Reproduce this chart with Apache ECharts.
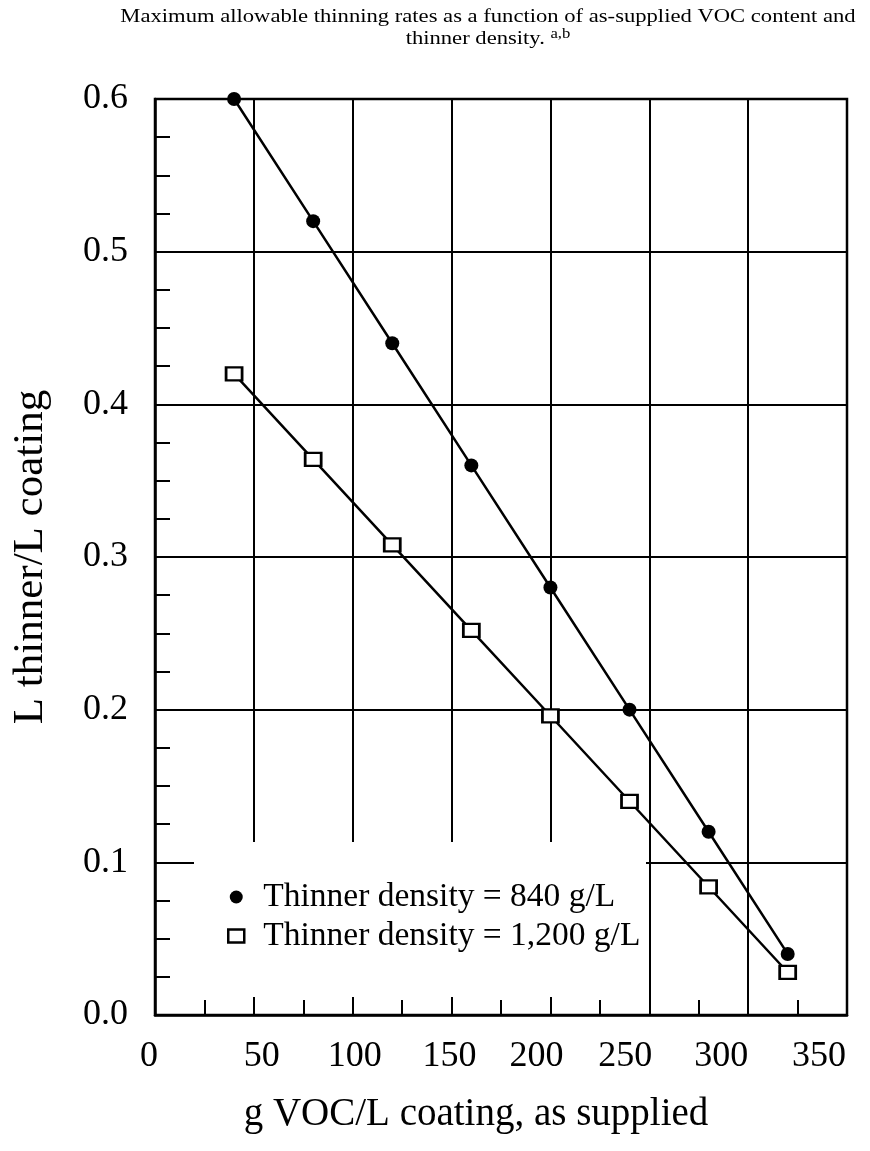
<!DOCTYPE html>
<html>
<head>
<meta charset="utf-8">
<script src="https://cdn.jsdelivr.net/npm/echarts@6/dist/echarts.min.js"></script>
<style>
html,body{margin:0;padding:0;background:#fff;overflow:hidden;}
#chart{width:870px;height:1151px;}
</style>
</head>
<body>
<div id="chart"></div>
<script>
const vocContent = [40, 80, 120, 160, 200, 240, 280, 320];
const rate840 = [0.6, 0.52, 0.44, 0.36, 0.28, 0.2, 0.12, 0.04];
const rate1200 = [0.42, 0.364, 0.308, 0.252, 0.196, 0.14, 0.084, 0.028];
const xTickValues = [0, 50, 100, 150, 200, 250, 300, 350];
const seriesNames = ['Thinner density = 840 g/L', 'Thinner density = 1,200 g/L'];
const titleLine1 = 'Maximum allowable thinning rates as a function of as-supplied VOC content and';
const titleLine2 = 'thinner density.';
const titleSup = 'a,b';
const xTitle = 'g VOC/L coating, as supplied';
const yTitle = 'L thinner/L coating';

// layout: horizontal nudge of each x tick label (px, negative = left), as placed in the original print
const xLabelNudge = [-6, 8, 2, -2, -14, -24, -27, -28];

const FONT = 'Liberation Serif';
const chart = echarts.init(document.getElementById('chart'), null, {renderer: 'canvas'});

const pts840 = vocContent.map((x, i) => [x, rate840[i]]);
const pts1200 = vocContent.map((x, i) => [x, rate1200[i]]);

const xRich = {};
xTickValues.forEach((v, i) => {
  const d = xLabelNudge[i];
  xRich['t' + i] = {
    fontFamily: FONT, fontSize: 36, color: '#000',
    padding: d < 0 ? [0, -2 * d, 0, 0] : [0, 0, 0, 2 * d]
  };
});

chart.setOption({
  animation: false,
  backgroundColor: '#fff',
  grid: {
    left: 155, right: 23, top: 99, bottom: 136,
    outerBoundsMode: 'none', containLabel: false,
    show: true, borderColor: '#000', borderWidth: 2.5, backgroundColor: 'transparent'
  },
  legend: {
    orient: 'vertical',
    left: 227,
    top: 880,
    padding: 0,
    itemWidth: 16,
    itemHeight: 13,
    itemGap: 5,
    textStyle: {fontFamily: FONT, fontSize: 33.5, color: '#000', padding: [0, 0, 0, 14]},
    data: [
      {name: seriesNames[0], icon: 'circle', itemStyle: {color: '#000', borderWidth: 0}},
      {name: seriesNames[1], icon: 'rect', itemStyle: {color: '#fff', borderColor: '#000', borderWidth: 2.5}}
    ],
    z: 5
  },
  xAxis: {
    type: 'value', min: 0, max: 350, interval: 50,
    name: xTitle, nameLocation: 'middle', nameGap: 80,
    nameTextStyle: {fontFamily: FONT, fontSize: 39, color: '#000', padding: [0, 50, 0, 0]},
    axisLine: {show: true, lineStyle: {color: '#000', width: 2.5}},
    axisTick: {show: true, inside: true, length: 18, lineStyle: {color: '#000', width: 2}},
    minorTick: {show: true, splitNumber: 2, length: 15, lineStyle: {color: '#000', width: 2}},
    axisLabel: {
      fontFamily: FONT, fontSize: 36, color: '#000', margin: 24,
      formatter: v => {
        const i = xTickValues.indexOf(v);
        return i >= 0 ? '{t' + i + '|' + v + '}' : String(v);
      },
      rich: xRich
    },
    splitLine: {show: true, lineStyle: {color: '#000', width: 2}}
  },
  yAxis: {
    type: 'value', min: 0, max: 0.6, interval: 0.1,
    name: yTitle, nameLocation: 'middle', nameGap: 103,
    nameTextStyle: {fontFamily: FONT, fontSize: 43, color: '#000'},
    axisLine: {show: true, lineStyle: {color: '#000', width: 2.5}},
    axisTick: {show: true, inside: true, length: 38, lineStyle: {color: '#000', width: 2}},
    minorTick: {show: true, splitNumber: 4, length: 15, lineStyle: {color: '#000', width: 2}},
    axisLabel: {fontFamily: FONT, fontSize: 36, color: '#000', margin: 27, formatter: v => v.toFixed(1)},
    splitLine: {show: true, lineStyle: {color: '#000', width: 2}}
  },
  graphic: [
    {type: 'rect', z: 3, shape: {x: 194, y: 842, width: 452, height: 155}, style: {fill: '#fff'}, silent: true},
    {type: 'text', z: 10, x: 488, y: 17, scaleX: 1.19,
      style: {text: titleLine1, font: '19px "Liberation Serif"', fill: '#000', textAlign: 'center', textVerticalAlign: 'middle'}},
    {type: 'text', z: 10, x: 488, y: 39, scaleX: 1.19,
      style: {text: titleLine2 + ' {sup|' + titleSup + '}', font: '19px "Liberation Serif"', fill: '#000', textAlign: 'center', textVerticalAlign: 'middle',
        rich: {sup: {font: '14px "Liberation Serif"', fill: '#000', padding: [0, 0, 9, 0]}}}}
  ],
  series: [
    {
      name: seriesNames[0], type: 'line', data: pts840, clip: false, z: 4,
      symbol: 'circle', symbolSize: 14,
      lineStyle: {color: '#000', width: 2.5},
      itemStyle: {color: '#000', borderWidth: 0}
    },
    {
      name: seriesNames[1], type: 'line', data: pts1200, clip: false, z: 4,
      symbol: 'rect', symbolSize: [16, 13],
      lineStyle: {color: '#000', width: 2.5},
      itemStyle: {color: '#fff', borderColor: '#000', borderWidth: 2.5}
    }
  ]
});
</script>
</body>
</html>
